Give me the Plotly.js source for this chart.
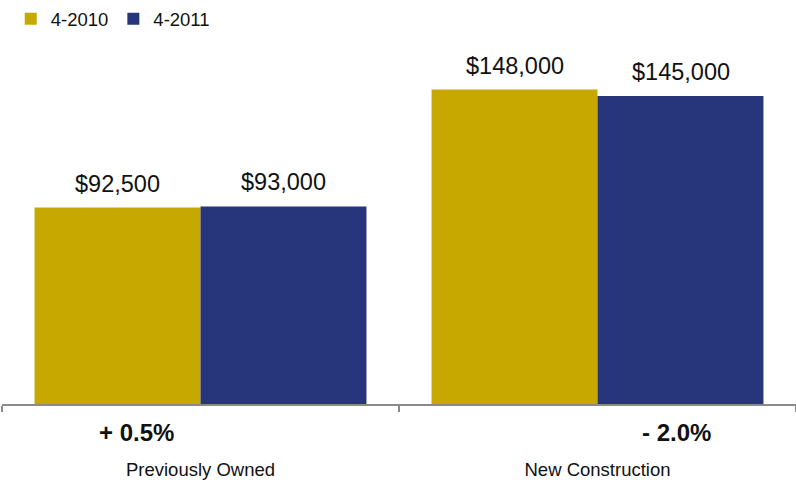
<!DOCTYPE html>
<html>
<head>
<meta charset="utf-8">
<script src="https://cdn.plot.ly/plotly-3.0.1.min.js"></script>
<style>
  html, body { margin: 0; padding: 0; background: #fff; }
  #chart { width: 796px; height: 483px; }
</style>
</head>
<body>
<div id="chart"></div>
<script>
// Median home prices by type, April 2010 vs April 2011
const categories = ['Previously Owned', 'New Construction'];
const seriesNames = ['4-2010', '4-2011'];
const prices2010 = [92500, 148000];
const prices2011 = [93000, 145000];
const changeLabels = ['+ 0.5%', '- 2.0%'];

const GOLD = '#C7A800';
const NAVY = '#27357A';
const FONT = 'Liberation Sans, Arial, Helvetica, sans-serif';

const fmt = v => '$' + v.toLocaleString('en-US');

const traces = [
  { type: 'bar', name: seriesNames[0], x: categories, y: prices2010,
    marker: { color: GOLD }, hoverinfo: 'skip' },
  { type: 'bar', name: seriesNames[1], x: categories, y: prices2011,
    marker: { color: NAVY }, hoverinfo: 'skip' }
];

// value labels above each bar
const annotations = [];
[prices2010, prices2011].forEach((vals, s) => {
  vals.forEach((v, i) => {
    annotations.push({
      x: categories[i], y: v, xref: 'x', yref: 'y',
      xshift: s === 0 ? -83 : 83, yshift: 9,
      xanchor: 'center', yanchor: 'bottom',
      text: fmt(v), showarrow: false,
      font: { family: FONT, size: 23.5, color: '#111' }
    });
  });
});

// year-over-year change under each group
const changeShift = [-64, 79];
changeLabels.forEach((t, i) => {
  annotations.push({
    x: categories[i], y: 0, xref: 'x', yref: 'paper',
    xshift: changeShift[i], yshift: -28,
    xanchor: 'center', yanchor: 'middle',
    text: '<b>' + t + '</b>', showarrow: false,
    font: { family: FONT, size: 24, color: '#111' }
  });
});

const layout = {
  width: 796, height: 483,
  margin: { l: 2, r: 0, t: 41, b: 79 },
  paper_bgcolor: '#fff', plot_bgcolor: '#fff',
  barmode: 'group', bargap: 0.164, bargroupgap: 0,
  font: { family: FONT, color: '#111' },
  showlegend: true,
  legend: {
    orientation: 'h', x: 0.011, xanchor: 'left', y: 1.072, yanchor: 'middle',
    font: { family: FONT, size: 18.5, color: '#111' },
    bgcolor: 'rgba(0,0,0,0)'
  },
  xaxis: {
    type: 'category', showgrid: false, zeroline: false,
    showline: true, linecolor: '#8a8a8a', linewidth: 2,
    ticks: 'outside', tickson: 'boundaries', ticklen: 6, tickcolor: '#8a8a8a', tickwidth: 2,
    ticklabelstandoff: 48,
    tickfont: { family: FONT, size: 18.5, color: '#111' },
    fixedrange: true
  },
  yaxis: {
    range: [0, 169000], visible: false, showgrid: false, zeroline: false,
    fixedrange: true
  },
  annotations: annotations
};

Plotly.newPlot('chart', traces, layout, { displayModeBar: false, staticPlot: true });
</script>
</body>
</html>
